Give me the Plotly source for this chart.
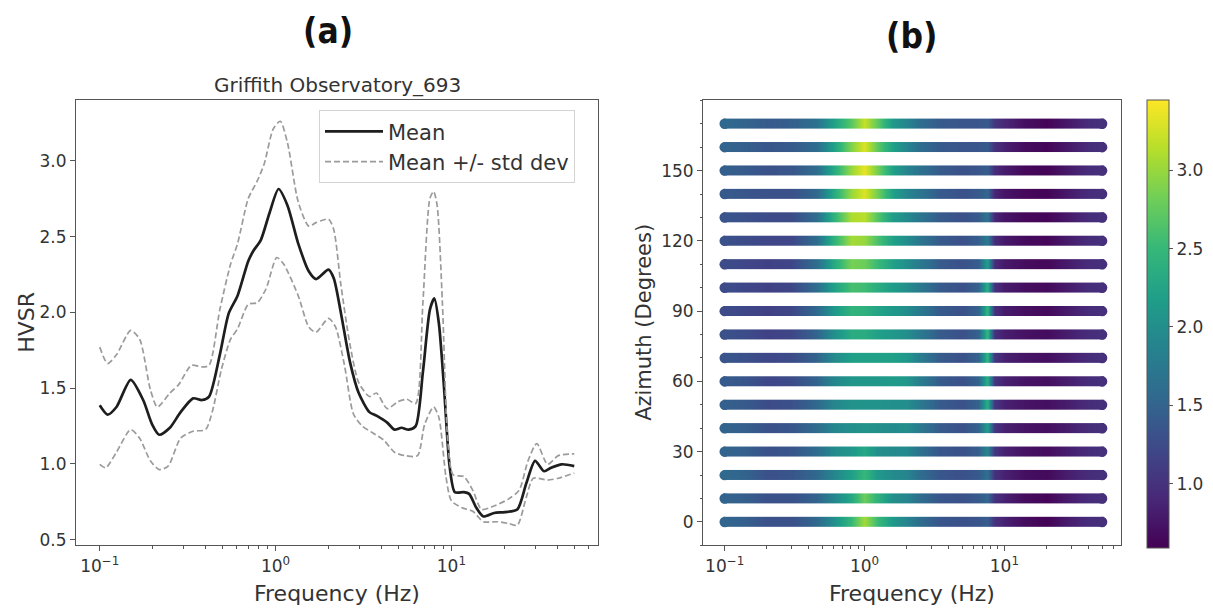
import plotly.graph_objects as go

# ---------------- data: panel (a) ----------------
mean_freq = [0.1, 0.1109, 0.1245, 0.150, 0.1766, 0.1986, 0.2178, 0.2506, 0.2884, 0.3396,
             0.3819, 0.4188, 0.4819, 0.5420, 0.6081, 0.6998, 0.7499, 0.8241, 0.9268, 1.040,
             1.169, 1.346, 1.545, 1.698, 2.000, 2.143, 2.355, 2.649, 2.972, 3.420,
             3.750, 4.315, 4.742, 5.200, 5.715, 6.266, 6.887, 7.551, 7.998, 8.492,
             9.099, 9.772, 10.47, 11.78, 12.62, 13.87, 15.21, 17.50, 20.14, 23.71,
             26.67, 29.92, 33.65, 36.90, 42.46, 50.0]
mean_hvsr = [1.388, 1.326, 1.376, 1.555, 1.422, 1.261, 1.193, 1.239, 1.342, 1.433,
             1.422, 1.445, 1.720, 1.995, 2.110, 2.339, 2.408, 2.477, 2.661, 2.814,
             2.706, 2.454, 2.271, 2.220, 2.282, 2.225, 1.995, 1.674, 1.468, 1.342,
             1.319, 1.273, 1.227, 1.239, 1.227, 1.250, 1.606, 2.018, 2.092, 1.927,
             1.491, 0.986, 0.814, 0.814, 0.803, 0.711, 0.654, 0.677, 0.683, 0.700,
             0.872, 1.021, 0.952, 0.975, 0.998, 0.986]

upper_freq = [0.1, 0.1109, 0.1245, 0.150, 0.1687, 0.1941, 0.2128, 0.2506, 0.2818, 0.3319,
              0.3819, 0.4188, 0.4819, 0.5546, 0.6081, 0.6998, 0.7870, 0.8630, 0.9705, 1.064,
              1.169, 1.346, 1.545, 1.698, 2.000, 2.143, 2.355, 2.649, 2.972, 3.420,
              3.750, 4.315, 4.966, 5.585, 6.266, 6.887, 7.551, 7.925, 8.299, 8.892,
              9.550, 10.23, 11.78, 13.24, 14.86, 17.50, 21.09, 24.27, 27.29, 30.62,
              35.24, 40.55, 50.0]
upper_hvsr = [1.771, 1.663, 1.720, 1.881, 1.823, 1.491, 1.376, 1.468, 1.525, 1.651,
              1.640, 1.651, 2.018, 2.317, 2.454, 2.752, 2.867, 2.982, 3.211, 3.261,
              3.119, 2.729, 2.569, 2.592, 2.615, 2.546, 2.179, 1.789, 1.537, 1.445,
              1.468, 1.365, 1.411, 1.427, 1.399, 2.064, 2.752, 2.798, 2.706, 2.064,
              1.147, 0.929, 0.917, 0.826, 0.700, 0.723, 0.768, 0.826, 1.021, 1.135,
              0.998, 1.055, 1.067]

lower_freq = [0.1, 0.1081, 0.1245, 0.150, 0.1687, 0.1941, 0.2178, 0.2449, 0.2884, 0.3396,
              0.3999, 0.4385, 0.4932, 0.5546, 0.6081, 0.6998, 0.7870, 0.8831, 1.016, 1.114,
              1.346, 1.545, 1.698, 2.000, 2.193, 2.466, 2.773, 3.112, 3.581, 4.121,
              4.742, 5.458, 6.412, 7.047, 7.925, 8.492, 9.311, 10.0, 11.51, 13.24,
              15.21, 18.32, 21.09, 23.71, 26.67, 29.24, 35.24, 40.55, 50.0]
lower_hvsr = [0.998, 0.975, 1.078, 1.227, 1.170, 1.021, 0.963, 0.986, 1.170, 1.216,
              1.227, 1.353, 1.628, 1.823, 1.892, 2.053, 2.064, 2.156, 2.362, 2.317,
              2.110, 1.904, 1.869, 1.961, 1.904, 1.651, 1.330, 1.250, 1.204, 1.158,
              1.078, 1.055, 1.055, 1.261, 1.376, 1.307, 0.917, 0.757, 0.711, 0.688,
              0.619, 0.619, 0.608, 0.596, 0.780, 0.906, 0.894, 0.906, 0.940]

hvsr_ticks = [0.5, 1.0, 1.5, 2.0, 2.5, 3.0]

# ---------------- data: panel (b) ----------------
azimuths = [0, 10, 20, 30, 40, 50, 60, 70, 80, 90, 100, 110, 120, 130, 140, 150, 160, 170]
az_freq = [0.1, 0.105, 0.14, 0.2, 0.3, 0.45, 0.6, 0.8, 1.0, 1.25, 1.6, 2.0, 2.5, 3.5, 5.0,
           6.5, 7.5, 8.5, 10, 14, 20, 28, 40, 47, 50]
hv_az000 = [1.52, 1.52, 1.45, 1.30, 1.30, 1.55, 2.00, 2.50, 3.05, 2.50, 2.10, 1.90, 1.60, 1.35, 1.30, 1.35, 1.45, 1.00, 0.85, 0.68, 0.60, 0.80, 0.95, 0.97, 0.97]
hv_az010 = [1.50, 1.50, 1.45, 1.30, 1.30, 1.50, 1.90, 2.30, 2.80, 2.40, 2.00, 1.90, 1.60, 1.35, 1.30, 1.40, 1.55, 1.00, 0.85, 0.68, 0.62, 0.80, 0.95, 0.97, 0.97]
hv_az020 = [1.55, 1.55, 1.50, 1.30, 1.35, 1.55, 1.90, 2.20, 2.50, 2.10, 1.95, 1.90, 1.60, 1.35, 1.30, 1.40, 1.65, 1.00, 0.85, 0.70, 0.66, 0.82, 0.95, 0.97, 0.97]
hv_az030 = [1.50, 1.50, 1.45, 1.30, 1.35, 1.60, 1.95, 2.10, 2.30, 2.00, 1.95, 1.95, 1.65, 1.35, 1.30, 1.45, 1.90, 1.05, 0.85, 0.72, 0.68, 0.82, 0.95, 0.97, 0.97]
hv_az040 = [1.50, 1.50, 1.45, 1.30, 1.35, 1.60, 1.90, 2.00, 2.05, 2.00, 1.95, 2.00, 1.75, 1.40, 1.30, 1.50, 2.20, 1.05, 0.85, 0.74, 0.70, 0.82, 0.95, 0.97, 0.97]
hv_az050 = [1.45, 1.45, 1.40, 1.25, 1.30, 1.55, 1.90, 2.05, 2.05, 2.05, 2.00, 2.00, 1.75, 1.40, 1.30, 1.50, 2.40, 1.05, 0.85, 0.74, 0.70, 0.82, 0.95, 0.97, 0.97]
hv_az060 = [1.40, 1.40, 1.35, 1.20, 1.25, 1.50, 1.90, 2.10, 2.10, 2.10, 2.15, 2.10, 1.80, 1.40, 1.30, 1.50, 2.40, 1.05, 0.85, 0.74, 0.70, 0.82, 0.95, 0.97, 0.97]
hv_az070 = [1.35, 1.35, 1.30, 1.20, 1.25, 1.50, 1.95, 2.20, 2.20, 2.20, 2.20, 2.10, 1.80, 1.40, 1.30, 1.50, 2.50, 1.05, 0.85, 0.74, 0.70, 0.82, 0.95, 0.97, 0.97]
hv_az080 = [1.30, 1.30, 1.25, 1.15, 1.20, 1.50, 2.00, 2.35, 2.35, 2.20, 2.10, 2.00, 1.75, 1.40, 1.30, 1.50, 2.50, 1.00, 0.82, 0.72, 0.68, 0.82, 0.95, 0.97, 0.97]
hv_az090 = [1.25, 1.25, 1.20, 1.15, 1.20, 1.55, 2.10, 2.45, 2.40, 2.25, 2.10, 2.00, 1.75, 1.40, 1.30, 1.50, 2.50, 1.00, 0.80, 0.70, 0.66, 0.80, 0.95, 0.97, 0.97]
hv_az100 = [1.25, 1.25, 1.20, 1.15, 1.20, 1.60, 2.20, 2.60, 2.55, 2.35, 2.15, 2.00, 1.75, 1.40, 1.30, 1.50, 2.40, 1.00, 0.80, 0.70, 0.66, 0.80, 0.95, 0.97, 0.97]
hv_az110 = [1.25, 1.25, 1.20, 1.15, 1.20, 1.60, 2.30, 2.85, 2.80, 2.50, 2.20, 2.00, 1.75, 1.40, 1.30, 1.45, 2.20, 0.95, 0.78, 0.68, 0.64, 0.80, 0.95, 0.97, 0.97]
hv_az120 = [1.30, 1.30, 1.25, 1.20, 1.20, 1.60, 2.40, 3.05, 3.00, 2.60, 2.20, 2.00, 1.70, 1.40, 1.30, 1.45, 1.80, 0.95, 0.78, 0.66, 0.63, 0.80, 0.95, 0.97, 0.97]
hv_az130 = [1.35, 1.35, 1.30, 1.25, 1.25, 1.60, 2.40, 3.10, 3.15, 2.65, 2.15, 1.95, 1.70, 1.40, 1.30, 1.40, 1.70, 0.90, 0.75, 0.64, 0.62, 0.78, 0.95, 0.97, 0.97]
hv_az140 = [1.40, 1.40, 1.35, 1.30, 1.30, 1.55, 2.30, 3.00, 3.30, 2.80, 2.20, 1.90, 1.70, 1.40, 1.30, 1.40, 1.55, 0.90, 0.75, 0.64, 0.61, 0.78, 0.95, 0.97, 0.97]
hv_az150 = [1.45, 1.45, 1.40, 1.30, 1.35, 1.60, 2.30, 3.00, 3.35, 2.80, 2.20, 1.90, 1.65, 1.40, 1.30, 1.35, 1.45, 0.95, 0.80, 0.64, 0.61, 0.78, 0.95, 0.97, 0.97]
hv_az160 = [1.50, 1.50, 1.45, 1.35, 1.40, 1.60, 2.20, 2.90, 3.30, 2.70, 2.20, 1.90, 1.60, 1.40, 1.35, 1.35, 1.40, 1.00, 0.85, 0.68, 0.62, 0.78, 0.95, 0.97, 0.97]
hv_az170 = [1.55, 1.55, 1.50, 1.40, 1.45, 1.65, 2.20, 2.70, 3.20, 2.70, 2.10, 1.90, 1.60, 1.40, 1.35, 1.35, 1.40, 1.05, 0.90, 0.70, 0.62, 0.78, 0.95, 0.97, 0.97]
az_rows = [hv_az000, hv_az010, hv_az020, hv_az030, hv_az040, hv_az050, hv_az060, hv_az070,
           hv_az080, hv_az090, hv_az100, hv_az110, hv_az120, hv_az130, hv_az140, hv_az150,
           hv_az160, hv_az170]
az_ticks = [0, 30, 60, 90, 120, 150]
cbar_ticks = [1.0, 1.5, 2.0, 2.5, 3.0]
cmin, cmax = 0.587, 3.447

# ---------------- layout geometry (pixels) ----------------
W, H = 1213, 609
def px(x):
    return x / W
def py(y):
    return 1 - y / H

LX0, LX1 = 76, 598
RX0, RX1 = 703, 1121
TOP, BOT = 101, 549
HALF = 2.2          # half bar thickness in degrees
CAP = 10.4          # marker diameter (px) for rounded bar ends

FONT = "DejaVu Sans"
TXT = "#333333"
AX = "#555555"

fig = go.Figure()

# ---- panel (a) ----
fig.add_trace(go.Scatter(x=mean_freq, y=mean_hvsr, mode="lines", name="Mean",
                         line=dict(color="#1e1e1e", width=2.7, shape="spline", smoothing=0.7),
                         xaxis="x", yaxis="y", hoverinfo="skip"))
fig.add_trace(go.Scatter(x=upper_freq, y=upper_hvsr, mode="lines", name="Mean +/- std dev",
                         line=dict(color="#9b9b9b", width=1.7, dash="6px,3px", shape="spline", smoothing=0.7),
                         xaxis="x", yaxis="y", hoverinfo="skip"))
fig.add_trace(go.Scatter(x=lower_freq, y=lower_hvsr, mode="lines", name="Mean +/- std dev",
                         showlegend=False,
                         line=dict(color="#9b9b9b", width=1.7, dash="6px,3px", shape="spline", smoothing=0.7),
                         xaxis="x", yaxis="y", hoverinfo="skip"))

# ---- panel (b) ----
for i, (az, row) in enumerate(zip(azimuths, az_rows)):
    fig.add_trace(go.Heatmap(
        x=az_freq, y=[az - HALF, az, az + HALF], z=[row, row],
        zsmooth="best", colorscale="Viridis", zmin=cmin, zmax=cmax,
        showscale=(i == 0), xaxis="x2", yaxis="y2", hoverinfo="skip",
        colorbar=dict(x=px(1147), xanchor="left", y=py(TOP), yanchor="top",
                      len=BOT - TOP, lenmode="pixels", thickness=22, thicknessmode="pixels",
                      outlinewidth=1, outlinecolor=AX, xpad=0, ypad=0,
                      ticks="outside", ticklen=4, tickcolor=AX,
                      tickvals=cbar_ticks, ticktext=["%.1f" % v for v in cbar_ticks],
                      tickfont=dict(family=FONT, size=17, color=TXT))))

fig.add_trace(go.Scatter(
    x=[az_freq[0]] * len(azimuths) + [az_freq[-1]] * len(azimuths),
    y=azimuths + azimuths, mode="markers", showlegend=False, hoverinfo="skip",
    marker=dict(size=CAP, color=[r[0] for r in az_rows] + [r[-1] for r in az_rows],
                colorscale="Viridis", cmin=cmin, cmax=cmax, line=dict(width=0)),
    xaxis="x2", yaxis="y2"))

minor_log = [0.2, 0.3, 0.4, 0.5, 0.6, 0.7, 0.8, 0.9, 2, 3, 4, 5, 6, 7, 8, 9, 20, 30, 40, 50, 60]
xticktext = ["10<sup>\u22121</sup>", "10<sup>0</sup>", "10<sup>1</sup>"]
common = dict(showline=True, linecolor=AX, linewidth=1, mirror=True, showgrid=False,
              zeroline=False, ticks="outside", ticklen=5, tickwidth=1, tickcolor=AX,
              tickfont=dict(family=FONT, size=17, color=TXT))

fig.update_layout(
    width=W, height=H, margin=dict(l=0, r=0, t=0, b=0),
    paper_bgcolor="white", plot_bgcolor="white",
    font=dict(family=FONT, color=TXT),
    xaxis=dict(domain=[px(LX0), px(LX1)], anchor="y", type="log", range=[-1.135, 1.834],
               tickvals=[0.1, 1, 10], ticktext=xticktext,
               minor=dict(ticks="outside", ticklen=2.5, tickcolor=AX, tickvals=minor_log),
               **common),
    yaxis=dict(domain=[py(BOT), py(TOP)], anchor="x", range=[0.463, 3.399],
               tickvals=hvsr_ticks, ticktext=["%.1f" % v for v in hvsr_ticks], **common),
    xaxis2=dict(domain=[px(RX0), px(RX1)], anchor="y2", type="log", range=[-1.155, 1.834],
                tickvals=[0.1, 1, 10], ticktext=xticktext,
                minor=dict(ticks="outside", ticklen=2.5, tickcolor=AX, tickvals=minor_log),
                **common),
    yaxis2=dict(domain=[py(BOT), py(TOP)], anchor="x2", range=[-10, 180],
                tickvals=az_ticks, ticktext=[str(v) for v in az_ticks],
                minor=dict(ticks="outside", ticklen=2.5, tickcolor=AX, dtick=10, tick0=0),
                **common),
    legend=dict(x=px(319), y=py(111), xanchor="left", yanchor="top",
                bgcolor="rgba(255,255,255,0.9)", bordercolor="#d4d4d4", borderwidth=1,
                font=dict(family=FONT, size=21, color=TXT), itemwidth=58, tracegroupgap=2),
    showlegend=True,
)

TITLE_FONT = "Liberation Sans Narrow, DejaVu Sans Condensed, Liberation Sans"
ann = [
    dict(text="<b>(a)</b>", x=px(328), y=py(31), font=dict(family=TITLE_FONT, size=35, color="#111")),
    dict(text="<b>(b)</b>", x=px(911), y=py(36), font=dict(family=TITLE_FONT, size=35, color="#111")),
    dict(text="Griffith Observatory_693", x=px((LX0 + LX1) / 2), y=py(86), font=dict(family=FONT, size=20, color=TXT)),
    dict(text="Frequency (Hz)", x=px((LX0 + LX1) / 2), y=py(597), font=dict(family=FONT, size=22, color=TXT)),
    dict(text="Frequency (Hz)", x=px((RX0 + RX1) / 2), y=py(597), font=dict(family=FONT, size=22, color=TXT)),
    dict(text="HVSR", x=px(27), y=py((TOP + BOT) / 2), textangle=-90, font=dict(family=FONT, size=22, color=TXT)),
    dict(text="Azimuth (Degrees)", x=px(644), y=py((TOP + BOT) / 2), textangle=-90, font=dict(family=FONT, size=21, color=TXT)),
]
for a in ann:
    fig.add_annotation(xref="paper", yref="paper", showarrow=False, xanchor="center", yanchor="middle", **a)

fig.write_html("out.html")
